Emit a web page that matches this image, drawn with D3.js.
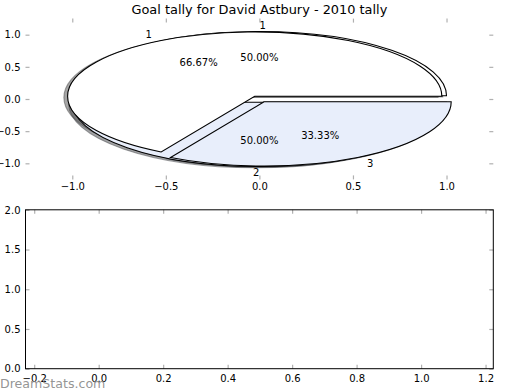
<!DOCTYPE html>
<html><head><meta charset="utf-8">
<script src="https://cdn.jsdelivr.net/npm/d3@7"></script>
<style>body{margin:0;background:#fff}svg{display:block}text{font-family:"DejaVu Sans",sans-serif}</style>
</head><body>
<script>
// ---- data ----
const chartTitle = "Goal tally for David Astbury - 2010 tally";
const pie1Labels = ["1", "2"];
const pie1Values = [1, 1];
const pie2Labels = ["1", "3"];
const pie2Values = [2, 1];
const sliceColors = ["#ffffff", "#e8eefb"];
const pieTicks = [-1.0, -0.5, 0.0, 0.5, 1.0];
const barXTicks = [-0.2, 0.0, 0.2, 0.4, 0.6, 0.8, 1.0, 1.2];
const barYTicks = [0.0, 0.5, 1.0, 1.5, 2.0];
const watermark = "DreamStats.com";

// ---- layout ----
const W = 520, H = 390;
const L = 25.5, R = 493.3;
const ax1 = {t: 18.6, b: 179.4}, ax2 = {t: 209.8, b: 368.7};
const explode = 0.05, labelDist = 1.1, pctDist = 0.6;
const tickColor = "#b0b0b0";

const svg = d3.select("body").append("svg").attr("width", W).attr("height", H);

const x1 = d3.scaleLinear().domain([-1.25, 1.25]).range([L, R]);
const y1 = d3.scaleLinear().domain([-1.25, 1.25]).range([ax1.b, ax1.t]);
const x2 = d3.scaleLinear().domain([-0.227, 1.224]).range([L, R]);
const y2 = d3.scaleLinear().domain([0, 2]).range([ax2.b, ax2.t]);

const fmt1 = d3.format(".1f");

function styleAxis(g) {
  g.selectAll(".tick line").attr("stroke", tickColor).attr("stroke-width", 1.2);
  g.selectAll("text").attr("fill", "#000").style("font-size", "10px").style("font-family", "DejaVu Sans");
  g.select(".domain").remove();
}

// ---- top axes (pie) ticks ----
const gTop = svg.append("g");
gTop.append("g").attr("transform", `translate(0,${ax1.b})`)
  .call(d3.axisBottom(x1).tickValues(pieTicks).tickSize(-4).tickPadding(3.2).tickFormat(fmt1))
  .call(styleAxis);
gTop.append("g").attr("transform", `translate(0,${ax1.t})`)
  .call(d3.axisTop(x1).tickValues(pieTicks).tickSize(-4).tickFormat(""))
  .call(styleAxis);
gTop.append("g").attr("transform", `translate(${L},0)`)
  .call(d3.axisLeft(y1).tickValues(pieTicks).tickSize(-4).tickPadding(5).tickFormat(fmt1))
  .call(styleAxis);
gTop.append("g").attr("transform", `translate(${R},0)`)
  .call(d3.axisRight(y1).tickValues(pieTicks).tickSize(-4).tickFormat(""))
  .call(styleAxis);

// ---- pies ----
function wedgePath(cx, cy, a0, a1) {
  const rx = x1(1) - x1(0), ry = y1(0) - y1(1);
  const large = (a1 - a0) > Math.PI + 1e-9 ? 1 : 0;
  return `M${x1(cx)},${y1(cy)}L${x1(cx + Math.cos(a0))},${y1(cy + Math.sin(a0))}` +
         `A${rx},${ry} 0 ${large} 0 ${x1(cx + Math.cos(a1))},${y1(cy + Math.sin(a1))}Z`;
}
const pieGen = d3.pie().sort(null).value(d => d).startAngle(0).endAngle(2 * Math.PI);
function buildPie(values, labels) {
  const total = d3.sum(values);
  return pieGen(values).map((s, i) => {
    const mid = (s.startAngle + s.endAngle) / 2;
    return {
      a0: s.startAngle, a1: s.endAngle, mid,
      cx: explode * Math.cos(mid), cy: explode * Math.sin(mid),
      color: sliceColors[i % sliceColors.length],
      label: labels[i], pct: d3.format(".2f")(values[i] / total * 100) + "%"
    };
  });
}
const allSlices = [...buildPie(pie1Values, pie1Labels), ...buildPie(pie2Values, pie2Labels)];

const gPie = svg.append("g");
const shadowColor = d => { const c = d3.rgb(d.color); return `rgba(${c.r*0.3},${c.g*0.3},${c.b*0.3},0.5)`; };
gPie.selectAll("path.shadow").data(allSlices).join("path").attr("class", "shadow")
  .attr("d", d => wedgePath(d.cx - 0.02, d.cy - 0.02, d.a0, d.a1))
  .attr("fill", shadowColor).attr("stroke", shadowColor)
  .attr("stroke-width", 1.1);
gPie.selectAll("path.wedge").data(allSlices).join("path").attr("class", "wedge")
  .attr("d", d => wedgePath(d.cx, d.cy, d.a0, d.a1))
  .attr("fill", d => d.color).attr("stroke", "#000").attr("stroke-width", 1.1);
gPie.selectAll("text.lab").data(allSlices).join("text").attr("class", "lab")
  .attr("x", d => x1(d.cx + labelDist * Math.cos(d.mid)))
  .attr("y", d => y1(d.cy + labelDist * Math.sin(d.mid)))
  .attr("dy", "0.35em")
  .attr("text-anchor", d => (d.cx + labelDist * Math.cos(d.mid)) > 0 ? "start" : "end")
  .style("font-size", "10px").text(d => d.label);
gPie.selectAll("text.pct").data(allSlices).join("text").attr("class", "pct")
  .attr("x", d => x1(d.cx + pctDist * Math.cos(d.mid)))
  .attr("y", d => y1(d.cy + pctDist * Math.sin(d.mid)))
  .attr("dy", "0.35em").attr("text-anchor", "middle")
  .style("font-size", "10px").text(d => d.pct);

// title
svg.append("text").attr("x", x1(0)).attr("y", 14).attr("text-anchor", "middle")
  .style("font-size", "12.9px").text(chartTitle);

// ---- bottom axes ----
const gBot = svg.append("g");
gBot.append("g").attr("transform", `translate(0,${ax2.b})`)
  .call(d3.axisBottom(x2).tickValues(barXTicks).tickSize(-4).tickPadding(5.8).tickFormat(fmt1))
  .call(styleAxis);
gBot.append("g").attr("transform", `translate(0,${ax2.t})`)
  .call(d3.axisTop(x2).tickValues(barXTicks).tickSize(-4).tickFormat(""))
  .call(styleAxis);
gBot.append("g").attr("transform", `translate(${L},0)`)
  .call(d3.axisLeft(y2).tickValues(barYTicks).tickSize(-4).tickPadding(5).tickFormat(fmt1))
  .call(styleAxis);
gBot.append("g").attr("transform", `translate(${R},0)`)
  .call(d3.axisRight(y2).tickValues(barYTicks).tickSize(-4).tickFormat(""))
  .call(styleAxis);
gBot.append("rect").attr("x", x2.range()[0]).attr("y", y2.range()[1])
  .attr("width", x2.range()[1] - x2.range()[0]).attr("height", y2.range()[0] - y2.range()[1])
  .attr("fill", "none").attr("stroke", "#000").attr("stroke-width", 1);

// watermark
svg.append("text").attr("x", 0).attr("y", 388).style("font-size", "12.6px")
  .attr("fill", "#888888").attr("fill-opacity", 0.9).text(watermark);
</script>
</body></html>
